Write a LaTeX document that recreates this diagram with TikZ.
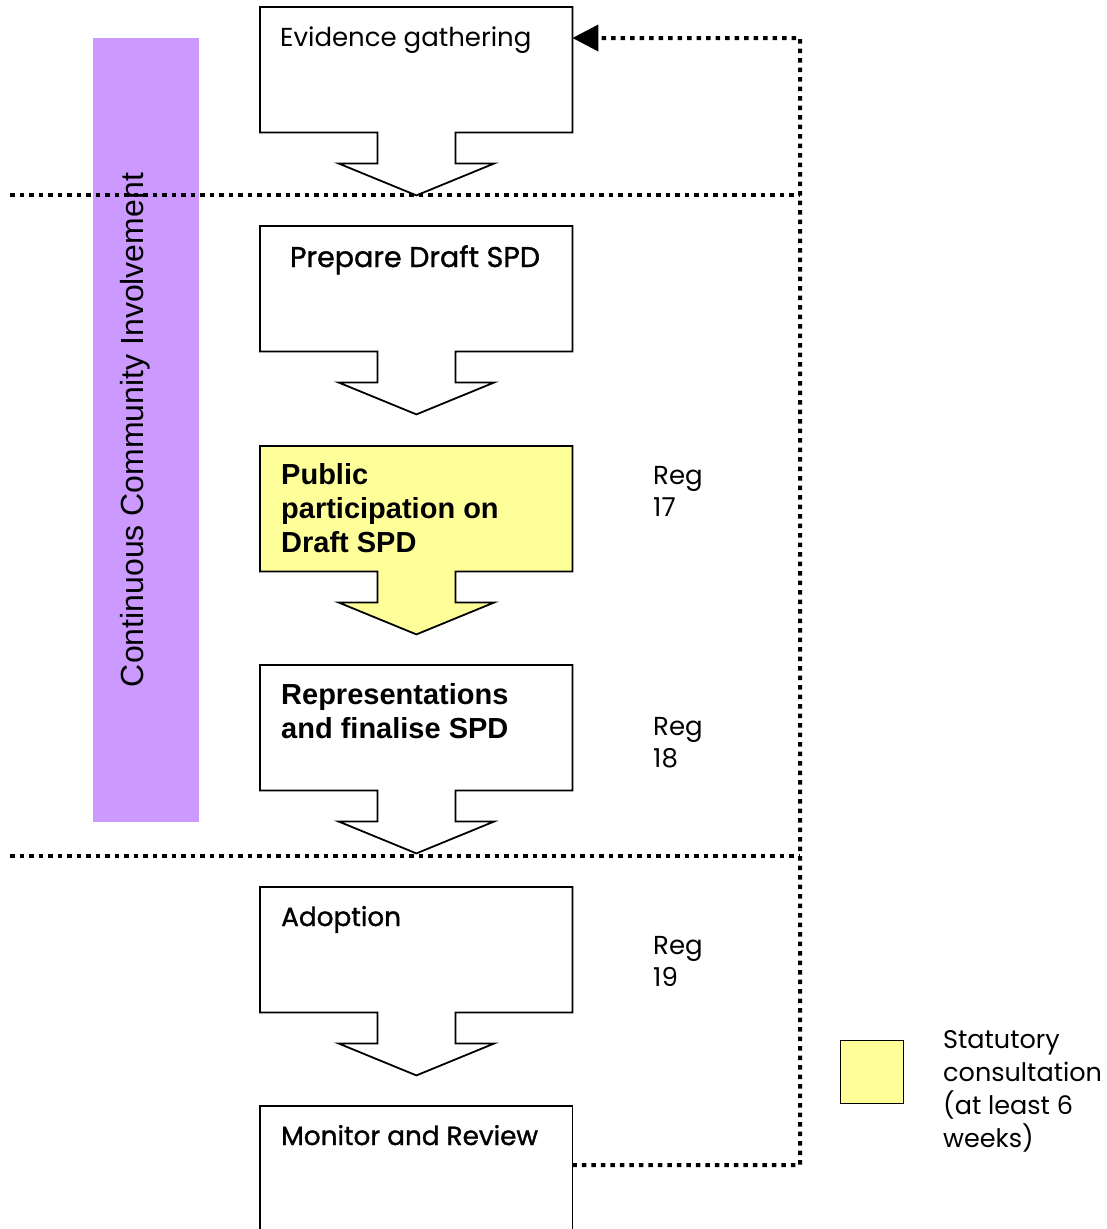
\documentclass[tikz,border=0pt]{standalone}
\usepackage{fontspec}
\setmainfont{Poppins}
\newfontfamily\gothicsemi[FakeBold=1.2]{Poppins}
\newfontfamily\arialfont{Liberation Sans}
\usetikzlibrary{arrows.meta,calc}

\definecolor{consultyellow}{HTML}{FFFF99}
\definecolor{involvepurple}{HTML}{CC99FF}

\tikzset{
  stepframe/.style={draw=black, line width=1.8pt, fill=white},
  dotline/.style={line width=4pt, dash pattern=on 4.5pt off 5pt},
  gothic/.style={font=\fontsize{26}{32}\selectfont, inner sep=0pt, anchor=base west, align=left},
  gothicbold/.style={font=\gothicsemi\fontsize{26.3}{32}\selectfont, inner sep=0pt, anchor=base west, align=left},
  arialbold/.style={font=\arialfont\bfseries\fontsize{29}{34}\selectfont, inner sep=0pt, anchor=base west, align=left},
}

% A process step: a box with a hollow block arrow hanging beneath it
\newcommand\flowstep[3]{%
  \node[minimum width=312pt, minimum height=125pt, inner sep=0pt, anchor=north west] (#1) at (260,#2) {};
  \draw[stepframe, fill=#3] (#1.north west) -- (#1.north east) -- (#1.south east)
    -- ++(-117pt,0pt) -- ++(0pt,-31pt) -- ++(39pt,0pt) -- ++(-78pt,-32pt)
    -- ++(-78pt,32pt) -- ++(39pt,0pt) -- ++(0pt,31pt) -- (#1.south west) -- cycle;
}

\begin{document}
\begin{tikzpicture}[x=1pt, y=-1pt]
  \useasboundingbox (0,0) rectangle (1107,1229);

  % continuous involvement band
  \node[fill=involvepurple, minimum width=106pt, minimum height=784pt, inner sep=0pt,
        anchor=north west] (band) at (93,38) {};

  % process steps
  \flowstep{evidence}{7}{white}
  \flowstep{prepare}{226}{white}
  \flowstep{publicpart}{446}{consultyellow}
  \flowstep{represent}{665}{white}
  \flowstep{adoption}{887}{white}

  % last step, running off the bottom edge
  \node[minimum width=312pt, minimum height=118pt, inner sep=0pt, anchor=north west] (monitor) at (260,1106) {};
  \draw[stepframe] ($(monitor.south west)+(0pt,-20pt)$) -- (monitor.north west) -- (monitor.north east)
    -- ($(monitor.south east)+(0pt,-20pt)$);

  % stage boundaries
  \coordinate (cornertop) at (800,38);
  \coordinate (cornerbottom) at (800,1165);
  \coordinate (stageAleft) at (10,195);
  \coordinate (stageAright) at (800,195);
  \coordinate (stageBleft) at (10,856);
  \coordinate (stageBright) at (800,856);
  \draw[dotline] (stageAleft) -- (stageAright);
  \draw[dotline] (stageBleft) -- (stageBright);

  % review loop back to evidence gathering
  \draw[dotline, -{Triangle[length=26pt, width=26pt]}]
    (monitor.east) -- (cornerbottom) -- (cornertop) -- ($(evidence.north east)+(0pt,-31pt)$);

  % band label
  \node[font=\arialfont\fontsize{32}{36}\selectfont, rotate=90, inner sep=0pt] (bandlabel) at (135,430)
    {Continuous Community Involvement};

  % step labels
  \node[gothic] (evidencelabel) at (280,46) {Evidence gathering};
  \node[gothicbold, anchor=base, font=\gothicsemi\fontsize{28.5}{32}\selectfont] (preparelabel) at (415,267) {Prepare Draft SPD};
  \node[arialbold] (publiclabel) at (281,552) {Public\\participation on\\Draft SPD};
  \node[arialbold] (representlabel) at (281,738) {Representations\\and finalise SPD};
  \node[gothicbold] (adoptionlabel) at (281,926) {Adoption};
  \node[gothicbold] (monitorlabel) at (281,1145) {Monitor and Review};

  % regulation references
  \node[gothic] (reg17) at (653,516) {Reg\\17};
  \node[gothic] (reg18) at (653,767) {Reg\\18};
  \node[gothic] (reg19) at (653,986) {Reg\\19};

  % key
  \node[draw=black, line width=1.8pt, fill=consultyellow, minimum width=63pt, minimum height=63pt,
        inner sep=0pt] (keybox) at (872,1072) {};
  \node[gothic, font=\fontsize{25.5}{33}\selectfont] (keylabel) at (943,1147)
    {Statutory\\consultation\\(at least 6\\weeks)};
\end{tikzpicture}
\end{document}
